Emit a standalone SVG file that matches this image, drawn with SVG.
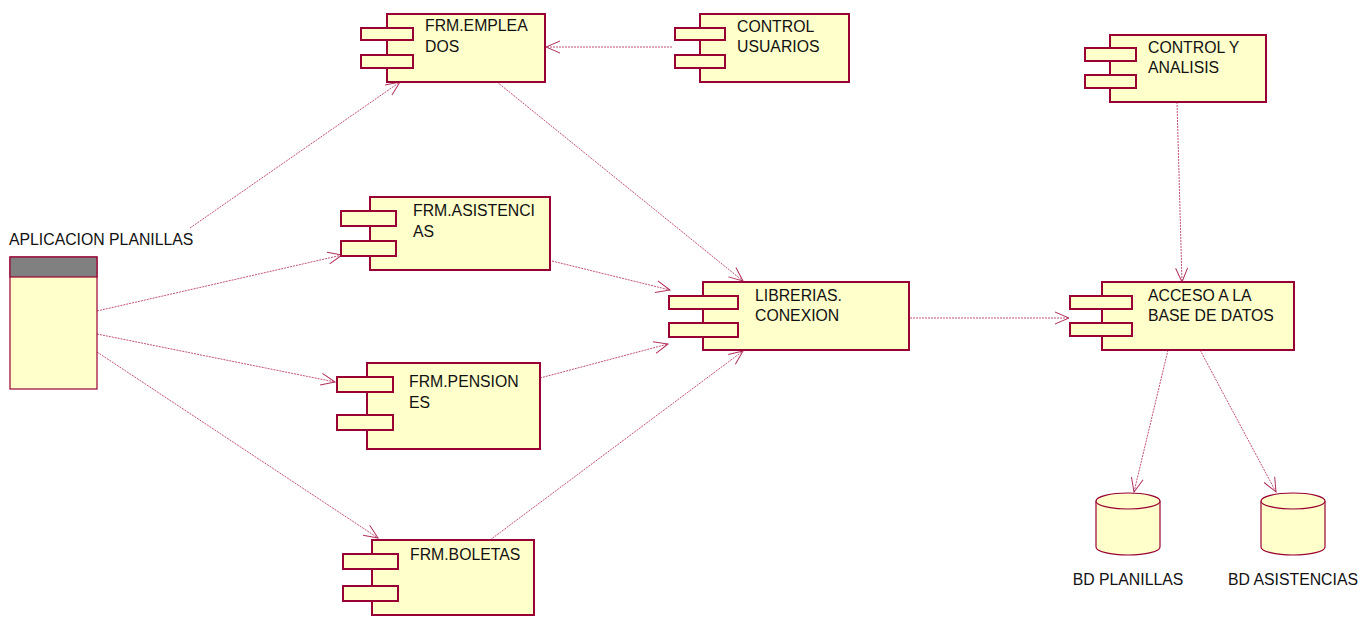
<svg xmlns="http://www.w3.org/2000/svg" width="1372" height="617" viewBox="0 0 1372 617">
<style>
.box{fill:#ffffcc;stroke:#990033;stroke-width:2}
.db{fill:#ffffcc;stroke:#990033;stroke-width:1.2}
.t{font-family:"Liberation Sans",Arial,sans-serif;font-size:15.8px;fill:#111}
.c{fill:none;stroke:#c0507a;stroke-width:1;stroke-dasharray:2,1}
</style>
<defs>
<marker id="a" markerUnits="userSpaceOnUse" markerWidth="16" markerHeight="14" refX="14" refY="6" orient="auto" overflow="visible">
<path d="M0,0 L14,6 L0,12" fill="none" stroke="#b0305a" stroke-width="1"/>
</marker>
</defs>
<rect width="1372" height="617" fill="#fff"/>
<g id="connectors">
<line class="c" x1="190" y1="228" x2="400" y2="82" marker-end="url(#a)"/>
<line class="c" x1="97" y1="311" x2="342" y2="255" marker-end="url(#a)"/>
<line class="c" x1="97" y1="334" x2="335" y2="382" marker-end="url(#a)"/>
<line class="c" x1="97" y1="352" x2="378" y2="538" marker-end="url(#a)"/>
<line class="c" x1="497" y1="82" x2="743" y2="281" marker-end="url(#a)"/>
<line class="c" x1="552" y1="261" x2="670" y2="290" marker-end="url(#a)"/>
<line class="c" x1="540" y1="378" x2="668" y2="344" marker-end="url(#a)"/>
<line class="c" x1="490" y1="540" x2="743" y2="351" marker-end="url(#a)"/>
<line class="c" x1="672" y1="47" x2="546" y2="47" marker-end="url(#a)"/>
<line class="c" x1="910" y1="318" x2="1069" y2="318" marker-end="url(#a)"/>
<line class="c" x1="1177" y1="102" x2="1182" y2="282" marker-end="url(#a)"/>
<line class="c" x1="1168" y1="350" x2="1134" y2="492" marker-end="url(#a)"/>
<line class="c" x1="1200" y1="350" x2="1276" y2="492" marker-end="url(#a)"/>
</g>
<g id="aplicacion">
<rect x="10" y="257" width="87" height="132" fill="#ffffcc" stroke="#990033" stroke-width="1.2"/>
<rect x="10" y="257" width="87" height="20" fill="#808080" stroke="#990033" stroke-width="1.2"/>
<text class="t" x="9" y="245">APLICACION PLANILLAS</text>
</g>
<g id="frm_empleados">
<rect class="box" x="387" y="14" width="158" height="68"/>
<rect class="box" x="361" y="28" width="52" height="12"/>
<rect class="box" x="361" y="55" width="52" height="13"/>
<text class="t" x="425" y="31">FRM.EMPLEA</text>
<text class="t" x="425" y="52">DOS</text>
</g>
<g id="control_usuarios">
<rect class="box" x="700" y="14" width="149" height="68"/>
<rect class="box" x="675" y="28" width="50" height="12"/>
<rect class="box" x="675" y="55" width="50" height="13"/>
<text class="t" x="737" y="32">CONTROL</text>
<text class="t" x="737" y="52">USUARIOS</text>
</g>
<g id="control_analisis">
<rect class="box" x="1110" y="35" width="156" height="67"/>
<rect class="box" x="1085" y="48" width="51" height="13"/>
<rect class="box" x="1085" y="75" width="51" height="13"/>
<text class="t" x="1148" y="53">CONTROL Y</text>
<text class="t" x="1148" y="73">ANALISIS</text>
</g>
<g id="frm_asistencias">
<rect class="box" x="370" y="197" width="180" height="73"/>
<rect class="box" x="341" y="211" width="55" height="15"/>
<rect class="box" x="341" y="241" width="55" height="15"/>
<text class="t" x="413" y="216">FRM.ASISTENCI</text>
<text class="t" x="413" y="237">AS</text>
</g>
<g id="frm_pensiones">
<rect class="box" x="367" y="363" width="173" height="86"/>
<rect class="box" x="337" y="377" width="56" height="15"/>
<rect class="box" x="337" y="415" width="56" height="15"/>
<text class="t" x="409" y="387">FRM.PENSION</text>
<text class="t" x="409" y="408">ES</text>
</g>
<g id="frm_boletas">
<rect class="box" x="372" y="540" width="162" height="75"/>
<rect class="box" x="343" y="554" width="55" height="15"/>
<rect class="box" x="343" y="586" width="55" height="15"/>
<text class="t" x="410" y="560">FRM.BOLETAS</text>
</g>
<g id="librerias">
<rect class="box" x="703" y="282" width="206" height="68"/>
<rect class="box" x="669" y="296" width="69" height="13"/>
<rect class="box" x="669" y="323" width="69" height="14"/>
<text class="t" x="755" y="301">LIBRERIAS.</text>
<text class="t" x="755" y="321">CONEXION</text>
</g>
<g id="acceso">
<rect class="box" x="1102" y="282" width="192" height="68"/>
<rect class="box" x="1070" y="296" width="62" height="13"/>
<rect class="box" x="1070" y="323" width="62" height="13"/>
<text class="t" x="1148" y="301">ACCESO A LA</text>
<text class="t" x="1148" y="321">BASE DE DATOS</text>
</g>
<g id="bd_planillas">
<path class="db" d="M1096,501 L1096,547 A32,8 0 0 0 1160,547 L1160,501"/>
<ellipse class="db" cx="1128" cy="501" rx="32" ry="8"/>
<text class="t" x="1128" y="585" text-anchor="middle">BD PLANILLAS</text>
</g>
<g id="bd_asistencias">
<path class="db" d="M1261,501 L1261,547 A32,8 0 0 0 1325,547 L1325,501"/>
<ellipse class="db" cx="1293" cy="501" rx="32" ry="8"/>
<text class="t" x="1293" y="585" text-anchor="middle">BD ASISTENCIAS</text>
</g>
</svg>
